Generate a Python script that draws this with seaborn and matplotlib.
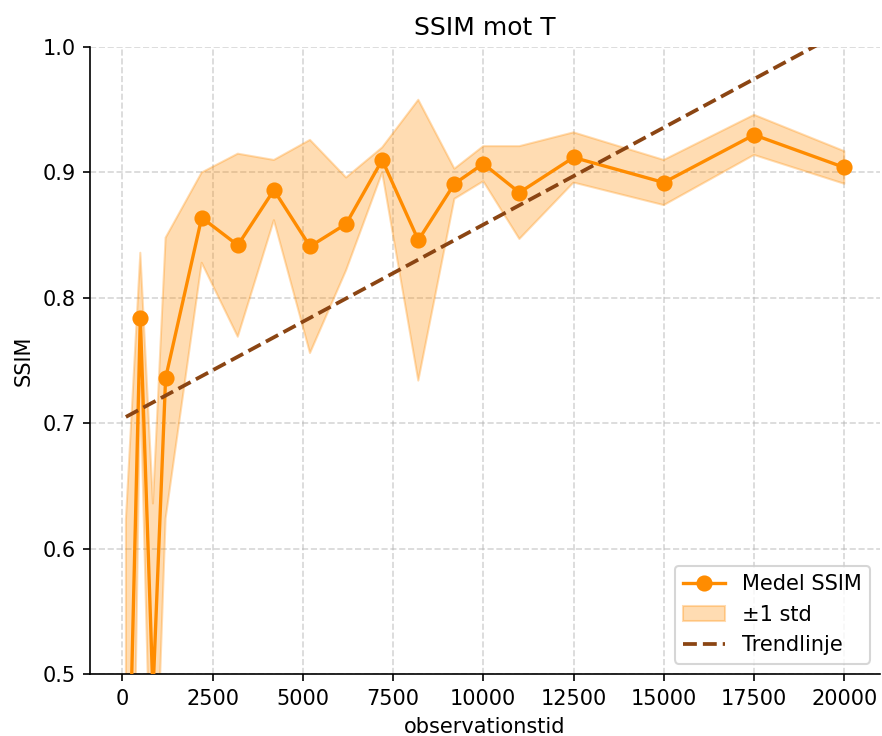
import numpy as np
import pandas as pd
import matplotlib
matplotlib.use("Agg")
import matplotlib.pyplot as plt
import seaborn as sns

# Data
T = [100, 500, 850, 1200, 2200, 3200, 4200, 5200, 6200, 7200, 8200, 9200,
     10000, 11000, 12500, 15000, 17500, 20000]
ssim_mean = [0.305, 0.784, 0.485, 0.736, 0.864, 0.842, 0.886, 0.841, 0.859,
             0.910, 0.846, 0.891, 0.907, 0.884, 0.912, 0.892, 0.930, 0.904]
ssim_std = [0.318, 0.052, 0.151, 0.112, 0.036, 0.073, 0.024, 0.085, 0.037,
            0.010, 0.112, 0.012, 0.014, 0.037, 0.020, 0.018, 0.016, 0.013]
trend_slope = 1.549e-5
trend_intercept = 0.7035

df = pd.DataFrame({"T": T, "mean": ssim_mean, "std": ssim_std})
df["lo"] = df["mean"] - df["std"]
df["hi"] = df["mean"] + df["std"]
df["trend"] = trend_intercept + trend_slope * df["T"]

plt.rcParams["font.family"] = ["DejaVu Sans"]

DPI = 150
fig, ax = plt.subplots(figsize=(882 / DPI, 736 / DPI), dpi=DPI)
fig.subplots_adjust(left=0.102, right=0.998, top=0.936, bottom=0.0842)

sns.lineplot(data=df, x="T", y="mean", ax=ax, color="darkorange", lw=1.6,
             marker="o", markersize=7, markeredgecolor="darkorange",
             label="Medel SSIM", zorder=3)
ax.fill_between(df["T"], df["lo"], df["hi"], color="darkorange", alpha=0.3,
                label="±1 std", zorder=2)
sns.lineplot(data=df, x="T", y="trend", ax=ax, color="#8B4513", lw=1.8,
             linestyle="--", label="Trendlinje", zorder=4)

ax.set_ylim(0.5, 1.0)
ax.set_title("SSIM mot T", fontsize=12)
ax.set_xlabel("observationstid")
ax.set_ylabel("SSIM")
ax.grid(True, linestyle="--", color="#b0b0b0", alpha=0.5, lw=0.8)
sns.despine(ax=ax)

handles, labels = ax.get_legend_handles_labels()
order = [labels.index(l) for l in ["Medel SSIM", "±1 std", "Trendlinje"]]
ax.legend([handles[i] for i in order], [labels[i] for i in order],
          loc="lower right")

fig.savefig("out.png", dpi=DPI)
